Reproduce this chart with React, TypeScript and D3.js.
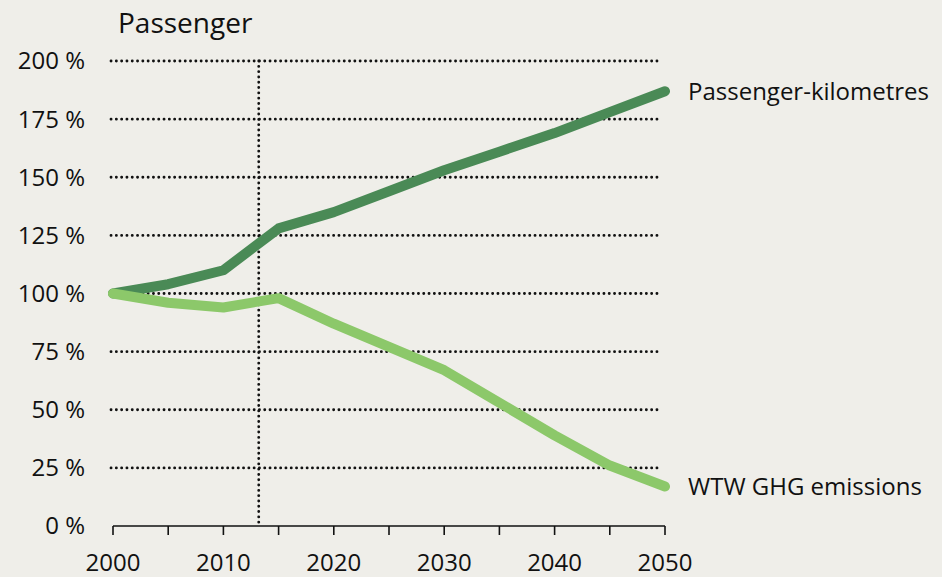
import React from "react";
import * as d3 from "d3";

// Passenger chart: index (2000 = 100 %)
const years = [2000, 2005, 2010, 2015, 2020, 2025, 2030, 2035, 2040, 2045, 2050];
const passengerKm = [100, 104, 110, 128, 135, 144, 153, 161, 169, 178, 187];
const wtwGhg = [100, 96, 94, 98, 87, 77, 67, 53, 39, 26, 17];
const yTicks = [0, 25, 50, 75, 100, 125, 150, 175, 200];
const xTickLabels = [2000, 2010, 2020, 2030, 2040, 2050];
const markerYear = 2013.2;

const seriesNames = ["Passenger-kilometres", "WTW GHG emissions"];
const seriesColors = ["#4a8a56", "#8cc86a"];

export default function App() {
  const width = 942;
  const height = 577;
  const margin = { left: 113, right: 277, top: 61, bottom: 51 };
  const font = "'Open Sans', 'Noto Sans', sans-serif";
  const fs = 24;

  const x = d3.scaleLinear().domain([2000, 2050]).range([margin.left, width - margin.right]);
  const y = d3.scaleLinear().domain([0, 200]).range([height - margin.bottom, margin.top]);

  const line = d3
    .line<number>()
    .x((_, i) => x(years[i]))
    .y((d) => y(d));

  const all = [passengerKm, wtwGhg];
  const dotted = {
    stroke: "#111",
    strokeWidth: 2.8,
    strokeDasharray: "0.1 5.2",
    strokeLinecap: "round" as const,
  };

  return (
    <svg
      width={width}
      height={height}
      style={{ position: "absolute", left: 0, top: 0, background: "#efeee9" }}
    >
      <rect width={width} height={height} fill="#efeee9" />
      <text x={118} y={33} fontSize={28} fontFamily={font} fill="#111">
        Passenger
      </text>

      {/* grid lines */}
      {yTicks
        .filter((t) => t > 0)
        .map((t) => (
          <line key={t} x1={x(2000) - 2} x2={x(2050) - 3} y1={y(t)} y2={y(t)} {...dotted} />
        ))}
      {yTicks.map((t) => (
        <text
          key={t}
          x={85}
          y={y(t)}
          dy="0.35em"
          textAnchor="end"
          fontSize={fs}
          fontFamily={font}
          fill="#111"
        >
          {t} %
        </text>
      ))}

      {/* marker year */}
      <line x1={x(markerYear)} x2={x(markerYear)} y1={y(200)} y2={y(0)} {...dotted} />

      {/* x axis */}
      <line x1={x(2000)} x2={x(2050)} y1={y(0)} y2={y(0)} stroke="#111" strokeWidth={1.6} />
      {years.map((yr) => (
        <line key={yr} x1={x(yr)} x2={x(yr)} y1={y(0)} y2={y(0) + 9} stroke="#111" strokeWidth={1.6} />
      ))}
      {xTickLabels.map((yr) => (
        <text
          key={yr}
          x={x(yr)}
          y={y(0) + 45}
          textAnchor="middle"
          fontSize={fs}
          fontFamily={font}
          fill="#111"
        >
          {yr}
        </text>
      ))}

      {/* series */}
      {all.map((vals, i) => (
        <path
          key={i}
          d={line(vals) ?? ""}
          fill="none"
          stroke={seriesColors[i]}
          strokeWidth={10}
          strokeLinecap="round"
          strokeLinejoin="round"
        />
      ))}
      {all.map((vals, i) => (
        <text
          key={i}
          x={x(2050) + 23}
          y={y(vals[vals.length - 1])}
          dy="0.35em"
          fontSize={fs}
          fontFamily={font}
          fill="#111"
        >
          {seriesNames[i]}
        </text>
      ))}
    </svg>
  );
}
